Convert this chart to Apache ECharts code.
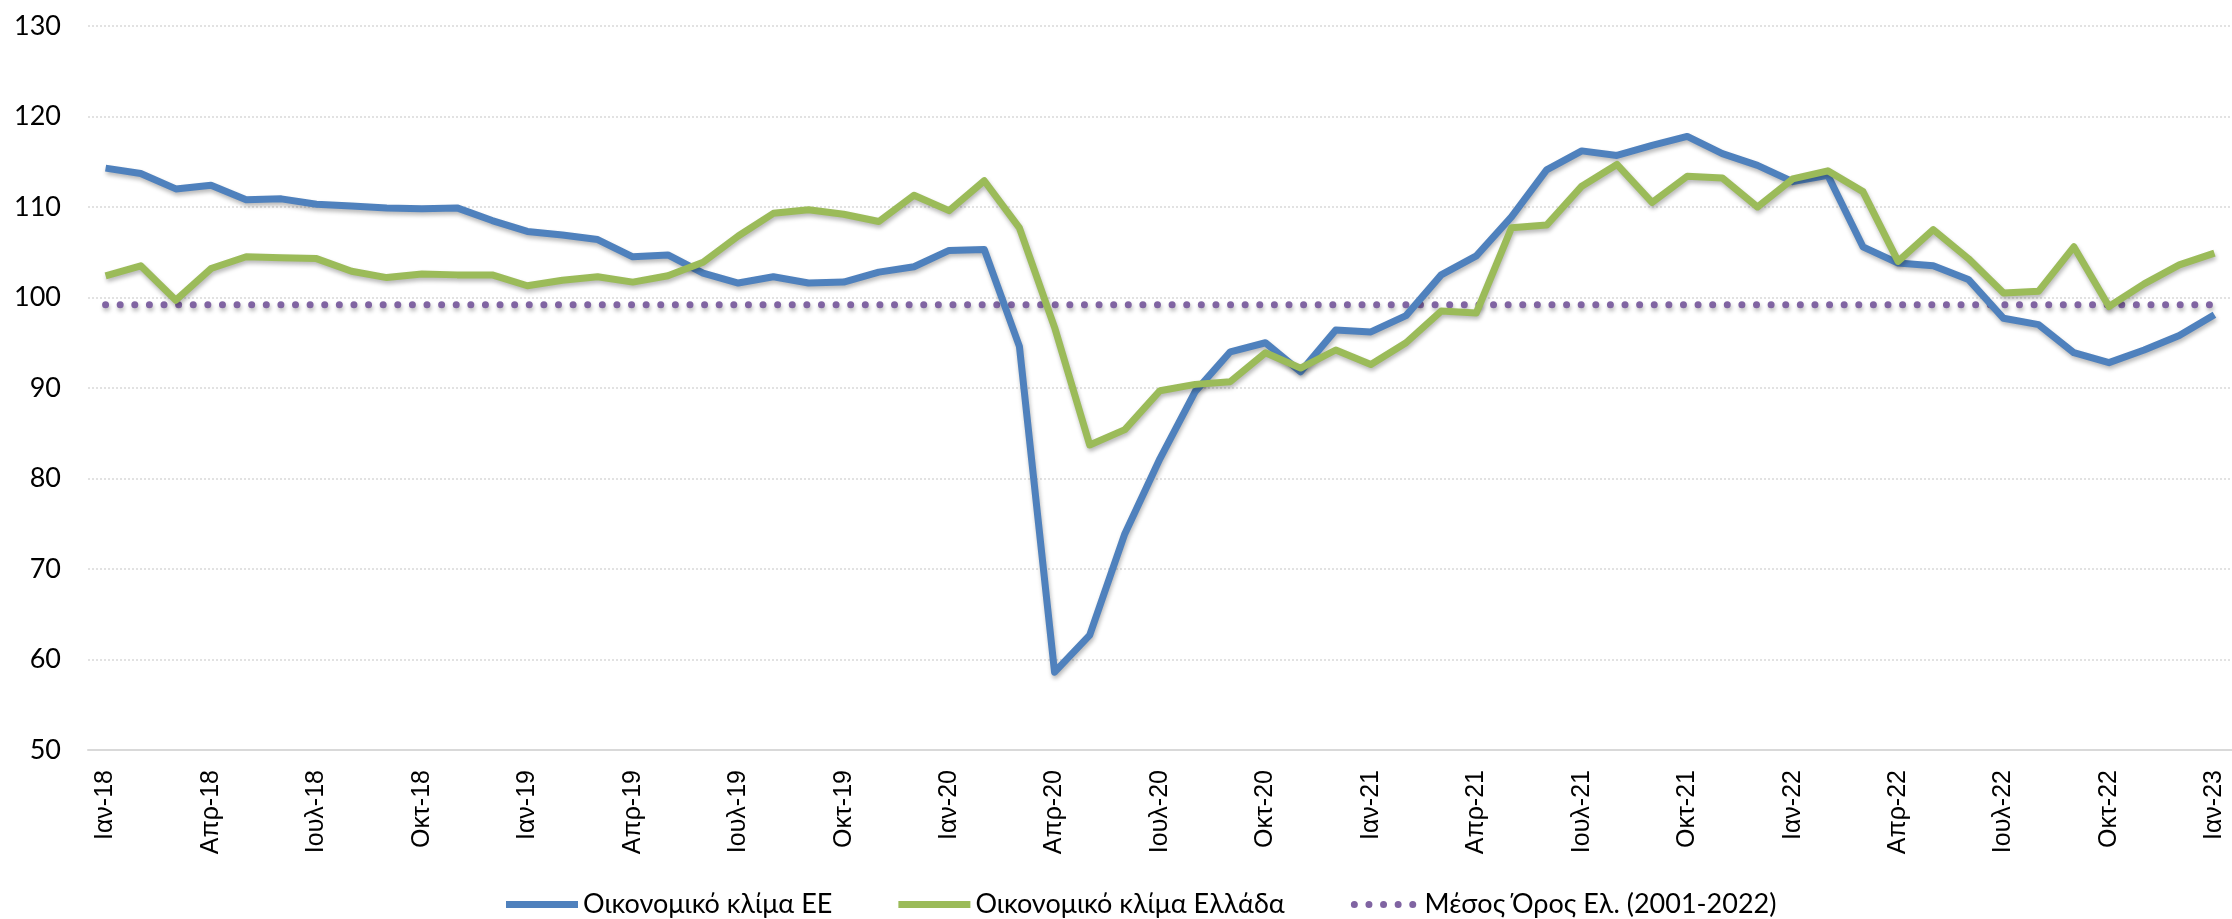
<!DOCTYPE html>
<html>
<head>
<meta charset="utf-8">
<script src="https://cdn.jsdelivr.net/npm/echarts@6/dist/echarts.min.js"></script>
<style>
  html, body { margin: 0; padding: 0; background: #ffffff; }
  #chart { width: 2232px; height: 919px; }
</style>
</head>
<body>
<div id="chart"></div>
<script>
// ---- Data ----
const monthNames = ['Ιαν', 'Φεβ', 'Μαρ', 'Απρ', 'Μαϊ', 'Ιουν', 'Ιουλ', 'Αυγ', 'Σεπ', 'Οκτ', 'Νοε', 'Δεκ'];
const years = ['18', '19', '20', '21', '22', '23'];
const categories = [];
years.forEach(function (y) {
  monthNames.forEach(function (m) {
    if (categories.length < 61) categories.push(m + '-' + y);
  });
});

const climateEU = [
  114.3, 113.7, 112.0, 112.4, 110.8, 110.9, 110.3, 110.1, 109.9, 109.8, 109.9, 108.5,
  107.3, 106.9, 106.4, 104.5, 104.7, 102.7, 101.6, 102.3, 101.6, 101.7, 102.8, 103.4,
  105.2, 105.3, 94.6, 58.6, 62.7, 73.9, 82.2, 89.6, 94.0, 95.0, 91.8, 96.4,
  96.2, 98.0, 102.5, 104.6, 108.9, 114.1, 116.2, 115.7, 116.8, 117.8, 115.9, 114.6,
  112.8, 113.5, 105.6, 103.8, 103.5, 102.0, 97.7, 97.0, 93.9, 92.8, 94.2, 95.8,
  98.1
];

const climateGR = [
  102.4, 103.5, 99.7, 103.2, 104.5, 104.4, 104.3, 102.9, 102.2, 102.6, 102.5, 102.5,
  101.3, 101.9, 102.3, 101.7, 102.4, 103.9, 106.8, 109.3, 109.7, 109.2, 108.4, 111.3,
  109.6, 112.9, 107.7, 96.7, 83.7, 85.4, 89.7, 90.4, 90.7, 93.9, 92.2, 94.2,
  92.6, 95.0, 98.5, 98.3, 107.7, 108.0, 112.3, 114.7, 110.5, 113.4, 113.2, 110.0,
  113.1, 114.0, 111.7, 104.0, 107.5, 104.3, 100.5, 100.7, 105.6, 99.0, 101.5, 103.6,
  104.9
];

const averageGR = [
  99.2, 99.2, 99.2, 99.2, 99.2, 99.2, 99.2, 99.2, 99.2, 99.2, 99.2, 99.2,
  99.2, 99.2, 99.2, 99.2, 99.2, 99.2, 99.2, 99.2, 99.2, 99.2, 99.2, 99.2,
  99.2, 99.2, 99.2, 99.2, 99.2, 99.2, 99.2, 99.2, 99.2, 99.2, 99.2, 99.2,
  99.2, 99.2, 99.2, 99.2, 99.2, 99.2, 99.2, 99.2, 99.2, 99.2, 99.2, 99.2,
  99.2, 99.2, 99.2, 99.2, 99.2, 99.2, 99.2, 99.2, 99.2, 99.2, 99.2, 99.2,
  99.2
];

const seriesNames = ['Οικονομικό κλίμα ΕΕ', 'Οικονομικό κλίμα Ελλάδα', 'Μέσος Όρος Ελ. (2001-2022)'];
const yTicks = { min: 50, max: 130, interval: 10 };

// ---- Chart ----
const chart = echarts.init(document.getElementById('chart'), null, { renderer: 'canvas' });
const FONT_X = '"Liberation Sans", Arial, sans-serif';
const FONT_C = 'Lato, "Liberation Sans", sans-serif';
const shadow = { shadowColor: 'rgba(0,0,0,0.28)', shadowBlur: 4, shadowOffsetX: 1, shadowOffsetY: 3 };

let dotsPath = 'path://';
for (let i = 0; i < 5; i++) {
  const cx = 3.5 + i * 14.6;
  dotsPath += 'M' + (cx - 3.5) + ',3.5 a3.5,3.5 0 1,0 7,0 a3.5,3.5 0 1,0 -7,0 Z ';
}

chart.setOption({
  animation: false,
  backgroundColor: '#ffffff',
  grid: { left: 88, right: 0, top: 26, bottom: 169, containLabel: false },
  legend: {
    left: 501,
    top: 886,
    itemWidth: 72,
    itemHeight: 7,
    itemGap: 66,
    textStyle: { fontFamily: FONT_C, fontSize: 27, color: '#000000' },
    data: [
      { name: seriesNames[0], icon: 'rect' },
      { name: seriesNames[1], icon: 'rect' },
      { name: seriesNames[2], icon: dotsPath }
    ]
  },
  xAxis: {
    type: 'category',
    data: categories,
    boundaryGap: true,
    axisLine: { show: true, lineStyle: { color: '#d9d9d9', width: 2 } },
    axisTick: { show: false },
    axisLabel: {
      interval: 2,
      rotate: 90,
      margin: 20,
      fontFamily: FONT_X,
      fontSize: 25,
      color: '#000000'
    },
    splitLine: { show: false }
  },
  yAxis: {
    type: 'value',
    min: yTicks.min,
    max: yTicks.max,
    interval: yTicks.interval,
    axisLine: { show: false },
    axisTick: { show: false },
    axisLabel: { fontFamily: FONT_C, fontSize: 27, color: '#000000', margin: 27 },
    splitLine: { show: true, lineStyle: { color: '#d9d9d9', width: 1.5, type: [2, 2] } }
  },
  series: [
    {
      name: seriesNames[0],
      type: 'line',
      data: climateEU,
      symbol: 'none',
      z: 3,
      itemStyle: { color: '#4f81bd' },
      lineStyle: Object.assign({ color: '#4f81bd', width: 7, join: 'round' }, shadow)
    },
    {
      name: seriesNames[1],
      type: 'line',
      data: climateGR,
      symbol: 'none',
      z: 4,
      itemStyle: { color: '#9bbb59' },
      lineStyle: Object.assign({ color: '#9bbb59', width: 7, join: 'round' }, shadow)
    },
    {
      name: seriesNames[2],
      type: 'line',
      data: averageGR,
      symbol: 'none',
      z: 2,
      itemStyle: { color: '#8064a2' },
      lineStyle: Object.assign({ color: '#8064a2', width: 7, type: [0.01, 14.6], cap: 'round' }, shadow)
    }
  ]
});
</script>
</body>
</html>
